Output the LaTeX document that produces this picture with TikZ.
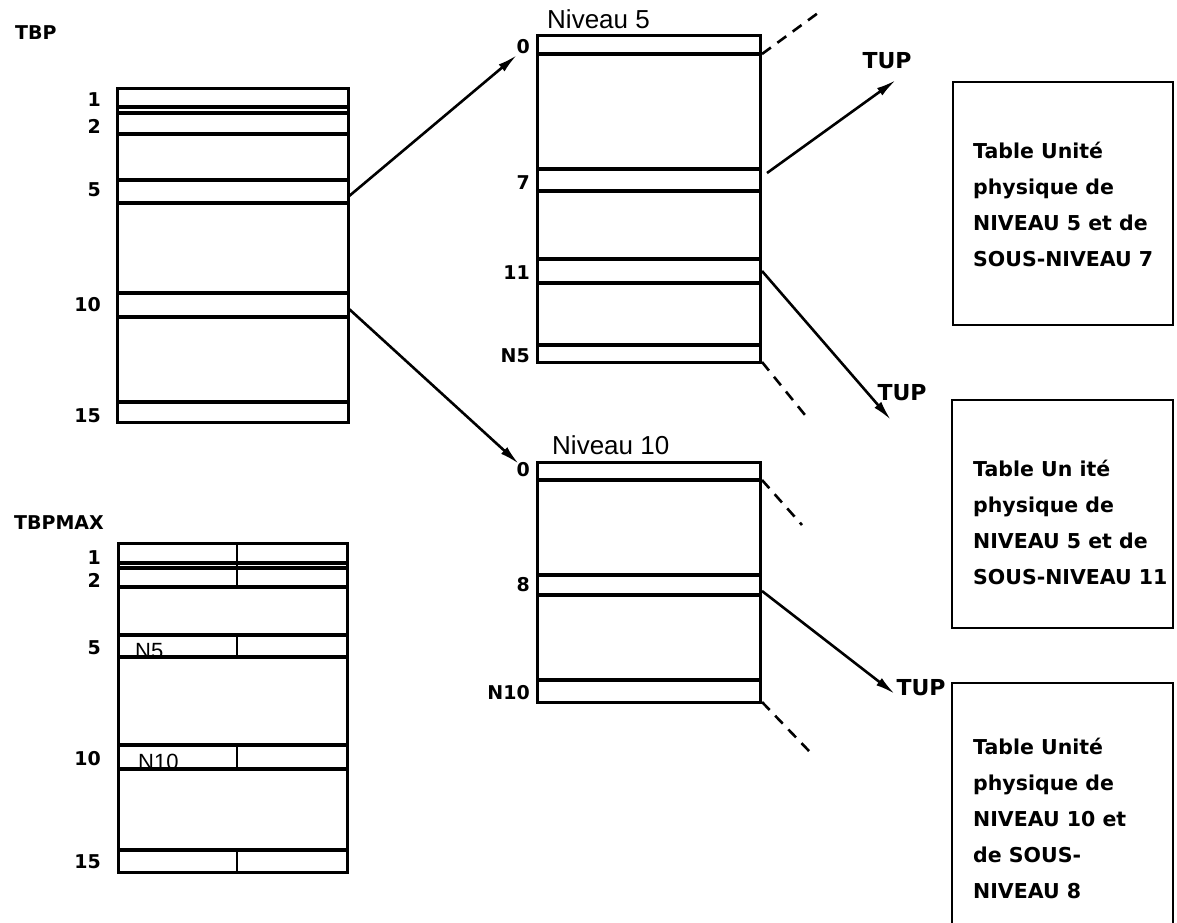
\documentclass[tikz,border=0pt]{standalone}
\usepackage{fontspec}
\setsansfont{DejaVu Sans}
\newfontfamily\thinsans{Liberation Sans}
\usetikzlibrary{arrows.meta, positioning, calc}

\begin{document}
\begin{tikzpicture}[
  x=1pt, y=-1pt,
  frame/.style={line width=3pt},
  rowline/.style={line width=3.2pt},
  divider/.style={line width=2.8pt},
  rowlbl/.style={font=\fontsize{19}{20}\selectfont\sffamily\bfseries, inner sep=0pt, anchor=east},
  tablbl/.style={font=\fontsize{19}{20}\selectfont\sffamily\bfseries, inner sep=0pt, anchor=west},
  lvllbl/.style={font=\fontsize{26}{28}\selectfont\thinsans, inner sep=0pt, anchor=base west},
  cell/.style={font=\fontsize{22}{24}\selectfont\thinsans, inner sep=0pt, anchor=base west},
  tuplbl/.style={font=\fontsize{22}{24}\selectfont\sffamily\bfseries, inner sep=0pt},
  boxtext/.style={font=\fontsize{20.5}{36}\selectfont\sffamily\bfseries, align=left, inner sep=0pt, anchor=west},
  tupbox/.style={line width=2.8pt},
  link/.style={line width=2.6pt, -{Latex[length=20pt, width=9pt]}},
  stub/.style={line width=2.6pt, dash pattern=on 11pt off 8pt}
]
\useasboundingbox (0,0) rectangle (1177,922);

% ---- TBP ----
\node[tablbl] (tbp) at (15,33) {TBP};
\draw[frame] (117,88) rectangle (348,422);
\foreach \y in {107,113,134,180,203,293,317,402}
  \draw[rowline] (117,\y) -- (348,\y);
\foreach \t/\y in {1/100,2/126,5/190,10/305,15/416}
  \node[rowlbl] (tbprow\t) at (101,\y) {\t};
\coordinate (tbp5) at (348,197);
\coordinate (tbp10) at (348,308);

% ---- TBPMAX (two columns) ----
\node[tablbl] (tbpmax) at (14,523) {TBPMAX};
\draw[frame] (118,543) rectangle (347,872);
\foreach \y in {563,568,587,635,657,745,769,850}
  \draw[rowline] (118,\y) -- (347,\y);
\foreach \a/\b in {543/587,635/657,745/769,850/872}
  \draw[divider] (237,\a) -- (237,\b);
\foreach \t/\y in {1/558,2/580,5/648,10/759,15/862}
  \node[rowlbl] (maxrow\t) at (101,\y) {\t};
\node[cell] (maxn5) at (135,658) {N5};
\node[cell] (maxn10) at (138,769) {N10};

% ---- Niveau 5 ----
\node[lvllbl] (niv5) at (547,28) {Niveau 5};
\draw[frame] (537,35) rectangle (760,362);
\foreach \y in {54,169,191,259,283,345}
  \draw[rowline] (537,\y) -- (760,\y);
\foreach \n/\t/\y in {a/0/47,b/7/183,c/11/273,d/N5/356}
  \node[rowlbl] (niv5\n) at (530,\y) {\t};
\coordinate (niv5in) at (517,55);
\coordinate (niv5r0) at (762,54);
\coordinate (niv5r7) at (767,173);
\coordinate (niv5r11) at (762,271);
\coordinate (niv5end) at (762,362);

% ---- Niveau 10 ----
\node[lvllbl] (niv10) at (552,454) {Niveau 10};
\draw[frame] (537,462) rectangle (760,702);
\foreach \y in {480,575,595,680}
  \draw[rowline] (537,\y) -- (760,\y);
\foreach \n/\t/\y in {a/0/470,b/8/585,c/N10/693}
  \node[rowlbl] (niv10\n) at (530,\y) {\t};
\coordinate (niv10in) at (519,464);
\coordinate (niv10r0) at (762,480);
\coordinate (niv10r8) at (762,591);
\coordinate (niv10end) at (762,702);

% ---- TUP targets ----
\coordinate (tup1) at (896,80);
\coordinate (tup2) at (891,420);
\coordinate (tup3) at (895,694);
\node[tuplbl] (tuplbl1) at (887,61) {TUP};
\node[tuplbl] (tuplbl2) at (902,393) {TUP};
\node[tuplbl] (tuplbl3) at (921,688) {TUP};

% ---- pointers ----
\draw[link] (tbp5) -- (niv5in);
\draw[link] (tbp10) -- (niv10in);
\draw[link] (niv5r7) -- (tup1);
\draw[link] (niv5r11) -- (tup2);
\draw[link] (niv10r8) -- (tup3);

% dashed stubs: pointers not followed
\coordinate (stub1) at (818,13);
\coordinate (stub2) at (805,415);
\coordinate (stub3) at (802,525);
\coordinate (stub4) at (810,752);
\draw[stub] (niv5r0) -- (stub1);
\draw[stub] (niv5end) -- (stub2);
\draw[stub] (niv10r0) -- (stub3);
\draw[stub] (niv10end) -- (stub4);

% ---- TUP tables ----
\draw[tupbox] (953,82) rectangle (1173,325);
\node[boxtext] (box1) at (973,204) {Table Unité\\physique de\\NIVEAU 5 et de\\SOUS-NIVEAU 7};
\draw[tupbox] (952,400) rectangle (1173,628);
\node[boxtext] (box2) at (973,522) {Table Un ité\\physique de\\NIVEAU 5 et de\\SOUS-NIVEAU 11};
\draw[tupbox] (952,925) |- (1173,683) -- (1173,925);
\node[boxtext] (box3) at (973,818) {Table Unité\\physique de\\NIVEAU 10 et\\de SOUS-\\NIVEAU 8};
\end{tikzpicture}
\end{document}
